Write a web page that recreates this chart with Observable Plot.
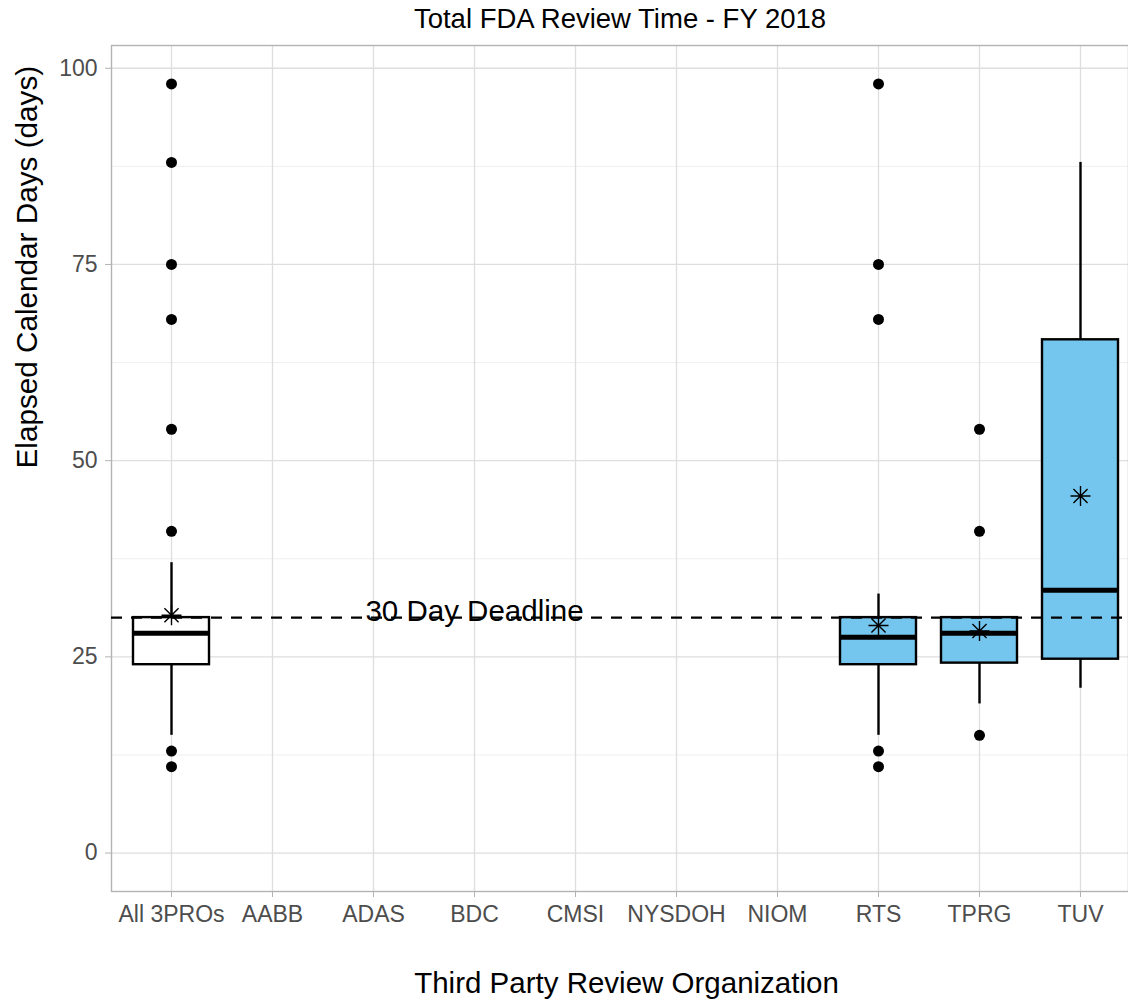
<!DOCTYPE html>
<html><head><meta charset="utf-8">
<script src="https://cdn.jsdelivr.net/npm/d3@7"></script>
<script src="https://cdn.jsdelivr.net/npm/@observablehq/plot@0.6"></script>
<style>body{margin:0;background:#fff;}</style>
</head><body><div id="chart"></div>
<script>
// ---- data ----
const categories = ["All 3PROs","AABB","ADAS","BDC","CMSI","NYSDOH","NIOM","RTS","TPRG","TUV"];
const boxCats   = ["All 3PROs","RTS","TPRG","TUV"];
const q1Vals    = [24, 24, 24.2, 24.7];
const medianVals= [28, 27.5, 28, 33.5];
const q3Vals    = [30, 30, 30, 65.4];
const lowerVals = [15, 15, 19, 21];
const upperVals = [37, 33, 30, 88];
const meanVals  = [30.3, 29.0, 28.3, 45.5];
const outlierCats = ["All 3PROs","All 3PROs","All 3PROs","All 3PROs","All 3PROs","All 3PROs","All 3PROs","All 3PROs",
                     "RTS","RTS","RTS","RTS","RTS","TPRG","TPRG","TPRG"];
const outlierVals = [98,88,75,68,54,41,13,11, 98,75,68,13,11, 54,41,15];
const yTicks = [0,25,50,75,100];
const yMinor = [12.5,37.5,62.5,87.5];
const deadline = 30;
const deadlineLabel = "30 Day Deadline";
const deadlineLabelCat = "BDC";
const titleText = "Total FDA Review Time - FY 2018";
const xTitle = "Third Party Review Organization";
const yTitle = "Elapsed Calendar Days (days)";

const boxes = boxCats.map((c,i)=>({cat:c,q1:q1Vals[i],median:medianVals[i],q3:q3Vals[i],lower:lowerVals[i],upper:upperVals[i],mean:meanVals[i]}));
const outliers = outlierCats.map((c,i)=>({cat:c,v:outlierVals[i]}));

const asterisk = {
  draw(ctx, size) {
    const r = Math.sqrt(size/Math.PI), d = r*0.707;
    ctx.moveTo(0,-r); ctx.lineTo(0,r);
    ctx.moveTo(-r,0); ctx.lineTo(r,0);
    ctx.moveTo(-d,-d); ctx.lineTo(d,d);
    ctx.moveTo(-d,d); ctx.lineTo(d,-d);
  }
};

const chart = Plot.plot({
  width: 1128, height: 1002,
  marginTop: 45, marginBottom: 111, marginLeft: 111, marginRight: 0,
  style: {fontFamily: "'Liberation Sans', Arial, sans-serif", background: "#fff"},
  x: {type: "band", domain: categories, range: [120.5, 1130.5], paddingInner: 0.2475, paddingOuter: 0.12375, align: 0.5},
  y: {domain: [-4.9, 102.9]},
  marks: [
    Plot.gridY({ticks: yMinor, stroke: "#EBEBEB", strokeOpacity: 1, strokeWidth: 0.8}),
    Plot.gridY({ticks: yTicks, stroke: "#DEDEDE", strokeOpacity: 1, strokeWidth: 1.3}),
    Plot.gridX({stroke: "#DEDEDE", strokeOpacity: 1, strokeWidth: 1.3}),
    Plot.frame({stroke: "#B3B3B3", strokeWidth: 1.4}),
    Plot.axisY({ticks: yTicks, tickSize: 6, tickPadding: 8, fontSize: 23, fill: "#4D4D4D", stroke: "#B3B3B3", label: null}),
    Plot.axisX({tickSize: 6, tickPadding: 8, fontSize: 23, fill: "#4D4D4D", stroke: "#B3B3B3", label: null}),
    Plot.ruleX(boxes, {x: "cat", y1: "q3", y2: "upper", stroke: "black", strokeWidth: 2.4}),
    Plot.ruleX(boxes, {x: "cat", y1: "q1", y2: "lower", stroke: "black", strokeWidth: 2.4}),
    Plot.barY(boxes.filter(d => d.cat === "All 3PROs"), {x: "cat", y1: "q1", y2: "q3", fill: "white", stroke: "black", strokeWidth: 2.4}),
    Plot.barY(boxes.filter(d => d.cat !== "All 3PROs"), {x: "cat", y1: "q1", y2: "q3", fill: "#74C6EE", stroke: "black", strokeWidth: 2.4}),
    Plot.tickY(boxes, {x: "cat", y: "median", stroke: "black", strokeWidth: 5}),
    Plot.dot(outliers, {x: "cat", y: "v", r: 5.5, fill: "black", stroke: "none"}),
    Plot.dot(boxes, {x: "cat", y: "mean", r: 10, symbol: asterisk, fill: "none", stroke: "black", strokeWidth: 1.4}),
    Plot.ruleY([deadline], {stroke: "black", strokeWidth: 2.4, strokeDasharray: "11,9"}),
    Plot.text([deadlineLabel], {x: [deadlineLabelCat], y: [deadline], text: d => d, fontSize: 29.5, fill: "black", dy: -6}),
    Plot.text([titleText], {frameAnchor: "top", lineAnchor: "middle", dy: -26, fontSize: 27.5, fill: "black"}),
    Plot.text([xTitle], {frameAnchor: "bottom", lineAnchor: "middle", dy: 92.5, dx: 6.5, fontSize: 29.5, fill: "black"}),
    Plot.text([yTitle], {frameAnchor: "left", lineAnchor: "middle", dx: -84, rotate: -90, fontSize: 29.7, fill: "black"})
  ]
});
document.getElementById("chart").appendChild(chart);
</script>
</body></html>
